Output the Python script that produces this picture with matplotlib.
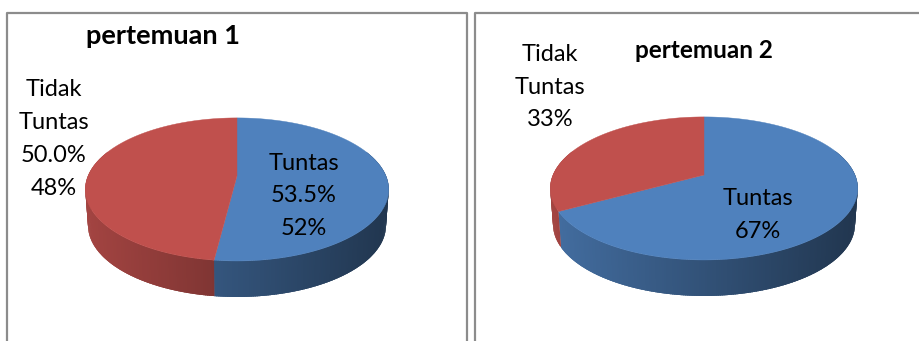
import numpy as np
import matplotlib
matplotlib.use("Agg")
import matplotlib.pyplot as plt
from matplotlib.colors import to_rgb

plt.rcParams['font.family'] = ['Lato', 'DejaVu Sans']

titles = ["pertemuan 1", "pertemuan 2"]
values_1 = [52, 48]
values_2 = [67, 33]
labels_1 = ["Tuntas\n53.5%\n52%", "Tidak\nTuntas\n50.0%\n48%"]
labels_2 = ["Tuntas\n67%", "Tidak\nTuntas\n33%"]
colors = ["#4F81BD", "#C0504D"]

DEPTH = 36
TILT = 0.188
STEP = 0.012


def rim(cx, cy, rx, ry, t):
    # t is clockwise from 12 o'clock, perspective makes the back look smaller
    u, v = np.sin(t), np.cos(t)
    w = 1 + TILT * v
    return cx + rx * u / w, cy - ry * v / w


def draw_pie(ax, values, cx, cy, rx, ry):
    edges = np.concatenate([[0], np.cumsum(values)]) / sum(values) * 2 * np.pi
    left, right = cx - rx * 1.018, cx + rx * 1.018

    # side wall first, shaded from left to right
    for i, col in enumerate(colors):
        ts = np.arange(edges[i], edges[i + 1], STEP)
        for t0 in ts:
            # each strip overlaps the next one so no seams show
            t1 = min(t0 + 2.5 * STEP, edges[i + 1])
            if np.cos(t0) > 0.35 and np.cos(t1) > 0.35:
                continue
            x0, y0 = rim(cx, cy, rx, ry, t0)
            x1, y1 = rim(cx, cy, rx, ry, t1)
            f = (x0 - left) / (right - left)
            shade = np.array(to_rgb(col)) * (0.85 - 0.43 * f)
            bx0 = cx + (x0 - cx) * 0.982
            bx1 = cx + (x1 - cx) * 0.982
            ax.fill([x0, x1, bx1, bx0], [y0, y1, y1 + DEPTH, y0 + DEPTH],
                    facecolor=shade, edgecolor='none')

    # top face
    for i, col in enumerate(colors):
        ts = np.linspace(edges[i], edges[i + 1], 200)
        x, y = rim(cx, cy, rx, ry, ts)
        ax.fill(np.r_[cx, x], np.r_[cy, y], color=col, lw=0.3)


fig = plt.figure(figsize=(9.2, 3.41), dpi=100)
ax = fig.add_axes([0, 0, 1, 1])
ax.set_xlim(0, 920)
ax.set_ylim(341, 0)
ax.axis('off')

# panel frames, open at the bottom
frame = "#8C8C8C"
ax.plot([7, 7, 467, 467], [341, 13, 13, 341], color=frame, lw=1.6)
ax.plot([475, 475, 920], [341, 13, 13], color=frame, lw=1.6)

draw_pie(ax, values_1, 237, 176, 149, 69)
draw_pie(ax, values_2, 704, 175, 151, 69)

ax.text(163, 36, titles[0], ha='center', va='center', fontsize=19.5, fontweight='bold', color='black')
ax.text(704, 50, titles[1], ha='center', va='center', fontsize=17.5, fontweight='bold', color='black')

txt = dict(ha='center', va='center', fontsize=17, color='black', linespacing=1.69, multialignment='center')
ax.text(304, 196, labels_1[0], **txt)
ax.text(54, 139, labels_1[1], **txt)
ax.text(758, 215, labels_2[0], **txt)
ax.text(550, 87, labels_2[1], **txt)

fig.savefig("out.png", dpi=100)
